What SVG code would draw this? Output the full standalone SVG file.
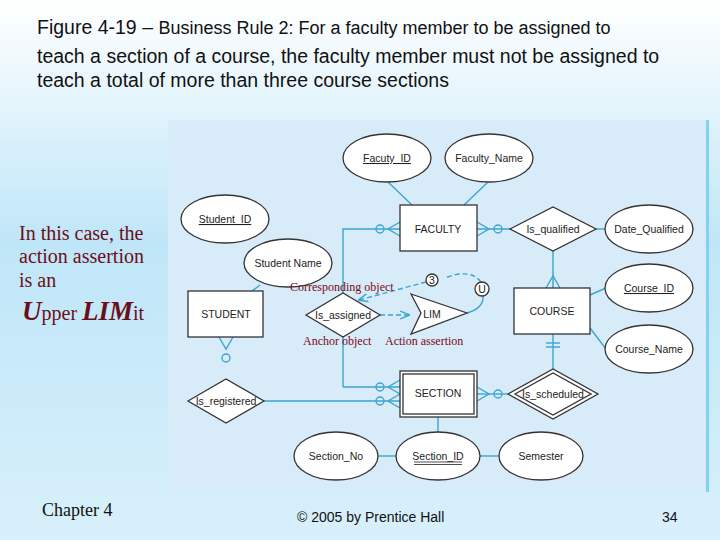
<svg xmlns="http://www.w3.org/2000/svg" width="720" height="540" viewBox="0 0 720 540">
<defs>
<linearGradient id="bg" x1="0" y1="0" x2="0" y2="1">
<stop offset="0" stop-color="#ffffff"/><stop offset="0.45" stop-color="#bfe6f8"/><stop offset="1" stop-color="#d8f0fb"/>
</linearGradient>
<marker id="ah" viewBox="0 0 10 10" refX="9" refY="5" markerWidth="7" markerHeight="7" orient="auto"><path d="M0,1 L10,5 L0,9" fill="none" stroke="#3aa6d0" stroke-width="1.5"/></marker>
</defs>
<style>
.sh{fill:#fff;stroke:#333;stroke-width:1.3}
.t{font-family:"Liberation Sans",Arial,sans-serif;font-size:10.5px;fill:#222;text-anchor:middle}
.c{stroke:#3aa6d0;stroke-width:1.4;fill:none}
.d{stroke:#3aa6d0;stroke-width:1.4;fill:none;stroke-dasharray:5,3}
.r{font-family:"Liberation Serif",serif;font-size:12px;fill:#7a0a14}
.l{font-family:"Liberation Serif",serif;font-size:20px;fill:#6b0f1a}
.h{font-family:"Liberation Sans",Arial,sans-serif;font-size:19.5px;fill:#111}
</style>
<rect width="720" height="540" fill="url(#bg)"/>
<text class="h" x="37" y="34" font-size="20">Figure 4-19 – <tspan font-size="18">Business Rule 2: For a faculty member to be assigned to</tspan></text>
<text class="h" x="37" y="63">teach a section of a course, the faculty member must not be assigned to</text>
<text class="h" x="37" y="87">teach a total of more than three course sections</text>
<rect x="168" y="120" width="540" height="372" fill="#d8ebf9"/>
<rect x="706" y="120" width="3" height="372" fill="#7fd2f2"/>
<g id="connectors">
<line class="c" x1="388" y1="182" x2="412" y2="205"/>
<line class="c" x1="488" y1="182" x2="464" y2="205"/>
<line class="c" x1="477" y1="229" x2="510" y2="229"/>
<path class="c" d="M477,222 L489,229 L477,236"/><circle class="c" cx="498" cy="229" r="4" fill="#d8ebf9"/>
<line class="c" x1="596" y1="229" x2="605" y2="229"/>
<line class="c" x1="553" y1="251" x2="553" y2="288"/>
<path class="c" d="M546,288 L553,276 L560,288"/>
<line class="c" x1="590" y1="295" x2="606" y2="288"/>
<line class="c" x1="590" y1="328" x2="606" y2="349"/>
<line class="c" x1="553" y1="334" x2="553" y2="369"/>
<line class="c" x1="546" y1="343" x2="560" y2="343"/><line class="c" x1="546" y1="347" x2="560" y2="347"/>
<line class="c" x1="477" y1="394" x2="508" y2="394"/>
<path class="c" d="M477,387 L489,394 L477,401"/><circle class="c" cx="498" cy="394" r="4" fill="#d8ebf9"/>
<line class="c" x1="260" y1="285" x2="252" y2="291"/>
<path class="c" d="M219,337 L226,349 L233,337"/><circle class="c" cx="226" cy="358" r="4"/>
<line class="c" x1="264" y1="401" x2="400" y2="401"/>
<path class="c" d="M400,394 L388,401 L400,408"/><circle class="c" cx="380" cy="401" r="4" fill="#d8ebf9"/>
<path class="c" d="M343,387 L343,229 L400,229"/>
<line class="c" x1="343" y1="387" x2="400" y2="387"/>
<path class="c" d="M400,222 L388,229 L400,236"/><circle class="c" cx="380" cy="229" r="4" fill="#d8ebf9"/>
<path class="c" d="M400,380 L388,387 L400,394"/><circle class="c" cx="380" cy="387" r="4" fill="#d8ebf9"/>
<line class="c" x1="438" y1="417" x2="438" y2="432"/>
<line class="c" x1="378" y1="456" x2="396" y2="456"/>
<line class="c" x1="480" y1="456" x2="499" y2="456"/>
<line class="d" x1="380" y1="315" x2="409" y2="315" marker-end="url(#ah)"/>
<path class="c" d="M467,313 Q484,308 483,296"/>
<path class="d" d="M481,282 Q470,268 445,278"/>
<line class="d" x1="426" y1="282" x2="359" y2="300" marker-end="url(#ah)"/>
</g>
<g id="facuty_id"><ellipse class="sh" cx="387" cy="158" rx="44" ry="24"/><text class="t" x="387" y="162" text-decoration="underline">Facuty_ID</text></g>
<g id="faculty_name"><ellipse class="sh" cx="489" cy="158" rx="44" ry="24"/><text class="t" x="489" y="162">Faculty_Name</text></g>
<g id="faculty"><rect class="sh" x="400" y="205" width="77" height="46"/><text class="t" x="438" y="233">FACULTY</text></g>
<g id="is_qualified"><polygon class="sh" points="510,229 553,207 596,229 553,251"/><text class="t" x="553" y="233">Is_qualified</text></g>
<g id="date_qualified"><ellipse class="sh" cx="649" cy="229" rx="44" ry="24"/><text class="t" x="649" y="233">Date_Qualified</text></g>
<g id="student_id"><ellipse class="sh" cx="225" cy="219" rx="44" ry="24"/><text class="t" x="225" y="223" text-decoration="underline">Student_ID</text></g>
<g id="student_name"><ellipse class="sh" cx="288" cy="263" rx="44" ry="24"/><text class="t" x="288" y="267">Student  Name</text></g>
<g id="student"><rect class="sh" x="188" y="291" width="75" height="46"/><text class="t" x="226" y="318">STUDENT</text></g>
<g id="is_assigned"><polygon class="sh" points="306,315 343,293 380,315 343,337"/><text class="t" x="343" y="319">Is_assigned</text></g>
<g id="lim"><polygon class="sh" points="411,294 467,313 411,334 421,313"/><text class="t" x="432" y="318">LIM</text></g>
<g id="c3"><circle class="sh" cx="432" cy="280" r="6" stroke-width="1"/><text class="t" x="432" y="284" font-size="9">3</text></g>
<g id="cu"><circle class="sh" cx="482" cy="289" r="7" stroke-width="1"/><text class="t" x="482" y="293" font-size="9">U</text></g>
<g id="course"><rect class="sh" x="514" y="288" width="76" height="46"/><text class="t" x="552" y="315">COURSE</text></g>
<g id="course_id"><ellipse class="sh" cx="649" cy="288" rx="44" ry="24"/><text class="t" x="649" y="292" text-decoration="underline">Course_ID</text></g>
<g id="course_name"><ellipse class="sh" cx="649" cy="349" rx="44" ry="24"/><text class="t" x="649" y="353">Course_Name</text></g>
<g id="section"><rect class="sh" x="400" y="371" width="77" height="46"/><rect class="sh" x="403" y="374" width="71" height="40"/><text class="t" x="438" y="397">SECTION</text></g>
<g id="is_scheduled"><polygon class="sh" points="508,394 553,369 598,394 553,419"/><polygon class="sh" points="515,394 553,373 591,394 553,415"/><text class="t" x="553" y="398" font-size="10">Is_scheduled</text></g>
<g id="is_registered"><polygon class="sh" points="188,401 226,379 264,401 226,423"/><text class="t" x="226" y="405">Is_registered</text></g>
<g id="section_no"><ellipse class="sh" cx="336" cy="456" rx="42" ry="24"/><text class="t" x="336" y="460">Section_No</text></g>
<g id="section_id"><ellipse class="sh" cx="438" cy="456" rx="42" ry="24"/><text class="t" x="438" y="460">Section_ID</text><line x1="414" y1="462" x2="462" y2="462" stroke="#222" stroke-width="0.8"/><line x1="414" y1="464.5" x2="462" y2="464.5" stroke="#222" stroke-width="0.8"/></g>
<g id="semester"><ellipse class="sh" cx="541" cy="456" rx="42" ry="24"/><text class="t" x="541" y="460">Semester</text></g>
<text class="r" x="290" y="291">Corresponding object</text>
<text class="r" x="303" y="345">Anchor object</text>
<text class="r" x="385" y="345">Action assertion</text>
<text class="l" x="19" y="240">In this case, the</text>
<text class="l" x="19" y="263">action assertion</text>
<text class="l" x="19" y="287">is an</text>
<text class="l" x="22" y="320"><tspan font-size="27" font-weight="bold" font-style="italic">U</tspan>pper <tspan font-size="27" font-weight="bold" font-style="italic">LIM</tspan>it</text>
<text x="42" y="516" font-family="Liberation Serif,serif" font-size="18" fill="#111">Chapter 4</text>
<text x="297" y="522" font-family="Liberation Sans,Arial,sans-serif" font-size="14" fill="#111">© 2005 by Prentice Hall</text>
<text x="662" y="522" font-family="Liberation Sans,Arial,sans-serif" font-size="14" fill="#111">34</text>
</svg>
